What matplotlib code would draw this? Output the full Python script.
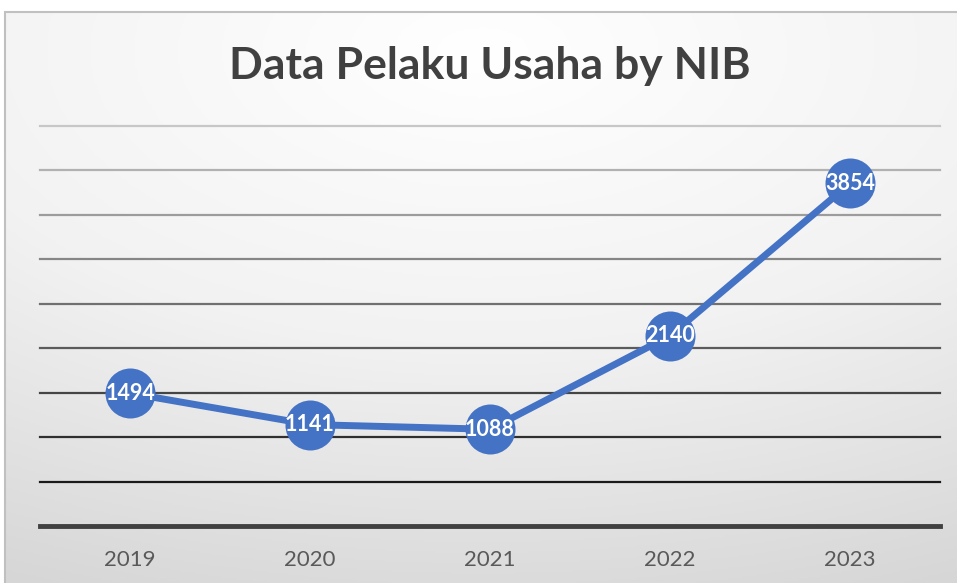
import numpy as np
import matplotlib.pyplot as plt
from matplotlib.patches import Rectangle
from matplotlib.colors import LinearSegmentedColormap

years = ["2019", "2020", "2021", "2022", "2023"]
pelaku = [1494, 1141, 1088, 2140, 3854]
grid_vals = [500, 1000, 1500, 2000, 2500, 3000, 3500, 4000, 4500]

W, H = 957, 583
fig = plt.figure(figsize=(W / 100, H / 100), dpi=100)
fig.patch.set_facecolor("white")

# chart area background: soft radial gradient, white near the title
bg = fig.add_axes([0.005, 0.0, 0.995, 0.979])
bg.set_axis_off()
yy, xx = np.mgrid[0:300, 0:500]
cx, cy = 250, 20
r = np.sqrt(((xx - cx) / 500) ** 2 + ((yy - cy) / 260) ** 2)
r = np.clip(r / r.max(), 0, 1)
cmap = LinearSegmentedColormap.from_list("bg", ["#ffffff", "#f2f2f2", "#d6d6d6"])
bg.imshow(r, cmap=cmap, aspect="auto", extent=[0, 1, 0, 1], origin="upper")
bg.set_xlim(0, 1)
bg.set_ylim(0, 1)
fig.patches.append(Rectangle((0.005, -0.01), 1.0, 0.989, transform=fig.transFigure,
                             fill=False, edgecolor="#c0c0c0", linewidth=1.5))

ax = fig.add_axes([40 / W, 1 - 526 / H, 900 / W, 400 / H])
ax.patch.set_alpha(0)
x = np.arange(len(years))
ax.set_xlim(-0.5, len(years) - 0.5)
ax.set_ylim(0, 4500)

# gridlines get darker toward the bottom
for i, g in enumerate(grid_vals):
    level = 0.1 + 0.68 * (i / (len(grid_vals) - 1))
    ax.axhline(g, color=str(level), linewidth=1.6, zorder=1, clip_on=False)
ax.axhline(0, color="#404040", linewidth=3.5, zorder=2, clip_on=False)

ax.plot(x, pelaku, color="#4472C4", linewidth=5, marker="o", markersize=36,
        markeredgewidth=0, zorder=3, clip_on=False, solid_capstyle="round")
for xi, v in zip(x, pelaku):
    ax.text(xi, v, str(v), ha="center", va="center", color="white",
            fontsize=15.5, fontweight="bold", family="Lato", zorder=4)

ax.set_xticks(x)
ax.set_xticklabels(years, fontsize=16, color="#595959", family="Lato")
ax.tick_params(axis="x", length=0, pad=17)
ax.set_yticks([])
for s in ax.spines.values():
    s.set_visible(False)

fig.text(490 / W, 1 - 66 / H, "Data Pelaku Usaha by NIB", ha="center", va="center",
         fontsize=32, fontweight="bold", color="#404040", family="Lato")

fig.savefig("out.png", dpi=100)
